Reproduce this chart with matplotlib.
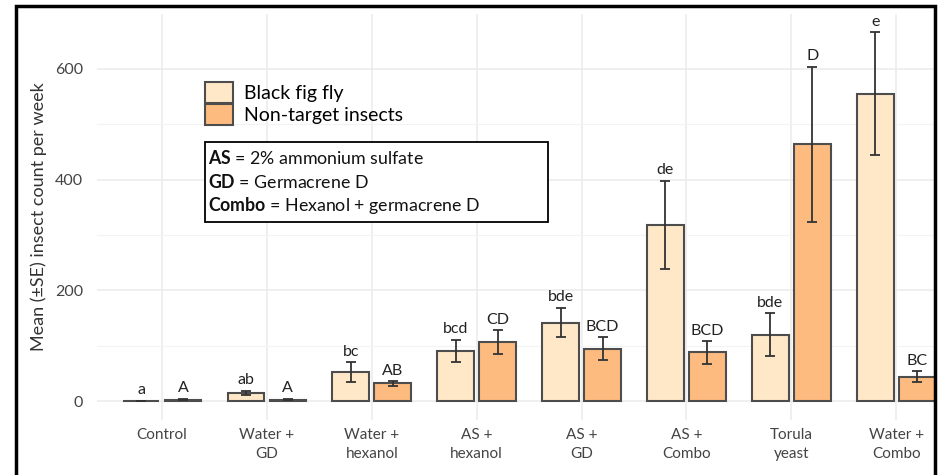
import numpy as np
import matplotlib.pyplot as plt
from matplotlib.patches import Patch, Rectangle

plt.rcParams['font.family'] = ['Lato', 'DejaVu Sans']
plt.rcParams['mathtext.fontset'] = 'custom'
plt.rcParams['mathtext.rm'] = 'Lato'
plt.rcParams['mathtext.bf'] = 'Lato:bold'

# treatments
categories = ['Control', 'Water +\nGD', 'Water +\nhexanol', 'AS +\nhexanol',
              'AS +\nGD', 'AS +\nCombo', 'Torula\nyeast', 'Water +\nCombo']
# Black fig fly
bff_mean = [0.5, 15, 52, 91, 142, 318, 120, 555]
bff_se = [0.5, 4, 18, 20, 27, 80, 39, 111]
bff_letters = ['a', 'ab', 'bc', 'bcd', 'bde', 'de', 'bde', 'e']
# Non-target insects
nt_mean = [3, 3, 32, 107, 95, 88, 464, 44]
nt_se = [1, 1, 4, 21, 20, 20, 140, 10]
nt_letters = ['A', 'A', 'AB', 'CD', 'BCD', 'BCD', 'D', 'BC']

bff_col = '#ffe8c8'
nt_col = '#fdbb80'
edge = '#4d4d4d'
txt = '#444444'

fig = plt.figure(figsize=(9.42, 4.75), dpi=100)
ax = fig.add_axes([97/942, 1-420/475, (935-97)/942, (420-14)/475])

x = np.arange(len(categories))
w = 0.35
ax.bar(x - 0.2, bff_mean, w, color=bff_col, edgecolor=edge, linewidth=1.5, zorder=2)
ax.bar(x + 0.2, nt_mean, w, color=nt_col, edgecolor=edge, linewidth=1.5, zorder=2)
ax.errorbar(x - 0.2, bff_mean, yerr=bff_se, fmt='none', ecolor='#333333',
            elinewidth=1.3, capsize=3.8, capthick=1.3, zorder=3)
ax.errorbar(x + 0.2, nt_mean, yerr=nt_se, fmt='none', ecolor='#333333',
            elinewidth=1.3, capsize=3.8, capthick=1.3, zorder=3)

for i in range(len(categories)):
    ax.annotate(bff_letters[i], (x[i] - 0.2, bff_mean[i] + bff_se[i]),
                xytext=(0, 2.5), textcoords='offset points', ha='center',
                va='bottom', fontsize=11.5, color='#222222')
    ax.annotate(nt_letters[i], (x[i] + 0.2, nt_mean[i] + nt_se[i]),
                xytext=(0, 2.5), textcoords='offset points', ha='center',
                va='bottom', fontsize=11.5, color='#222222')

ax.set_xlim(-0.62, 7.37)
ax.set_ylim(-34, 699)
ax.set_xticks(x)
ax.set_xticklabels(categories, fontsize=11, color=txt, linespacing=1.4)
ax.set_yticks([0, 200, 400, 600])
ax.set_yticks([100, 300, 500], minor=True)
ax.tick_params(axis='both', which='both', length=0, colors=txt)
ax.tick_params(axis='y', labelsize=11.5, pad=10)
ax.tick_params(axis='x', pad=6)
ax.grid(True, which='major', color='#ebebeb', linewidth=1.1, zorder=0)
ax.grid(True, which='minor', axis='y', color='#f3f3f3', linewidth=0.8, zorder=0)
ax.set_axisbelow(True)
for s in ax.spines.values():
    s.set_visible(False)
ax.set_ylabel('Mean (\u00b1SE) insect count per week', fontsize=13, color='#333333',
              labelpad=6)

handles = [Patch(facecolor=bff_col, edgecolor=edge, linewidth=1.5, label='Black fig fly'),
           Patch(facecolor=nt_col, edgecolor=edge, linewidth=1.5, label='Non-target insects')]
fig.legend(handles=handles, loc='upper left', bbox_to_anchor=(205/942, 1-82/475),
           frameon=False, fontsize=14, handlelength=1.45, handleheight=1.3,
           labelspacing=0.02, handletextpad=0.55, borderpad=0, borderaxespad=0)

# abbreviations box
fig.patches.append(Rectangle((205/942, 1-222/475), 343/942, 80/475, transform=fig.transFigure,
                             facecolor='white', edgecolor='black', linewidth=1.3, zorder=5))
notes = [r'$\mathbf{AS}$ = 2% ammonium sulfate',
         r'$\mathbf{GD}$ = Germacrene D',
         r'$\mathbf{Combo}$ = Hexanol + germacrene D']
for k, line in enumerate(notes):
    fig.text(208/942, 1-(158+23.5*k)/475, line, fontsize=12.8, color='#111111',
             va='center', ha='left', zorder=6)

# outer frame
fig.patches.append(Rectangle((16/942, -0.05), (935-16)/942, 1.05-6/475, transform=fig.transFigure,
                             facecolor='none', edgecolor='black', linewidth=2.5, zorder=10))

fig.savefig('out.png', dpi=100)
